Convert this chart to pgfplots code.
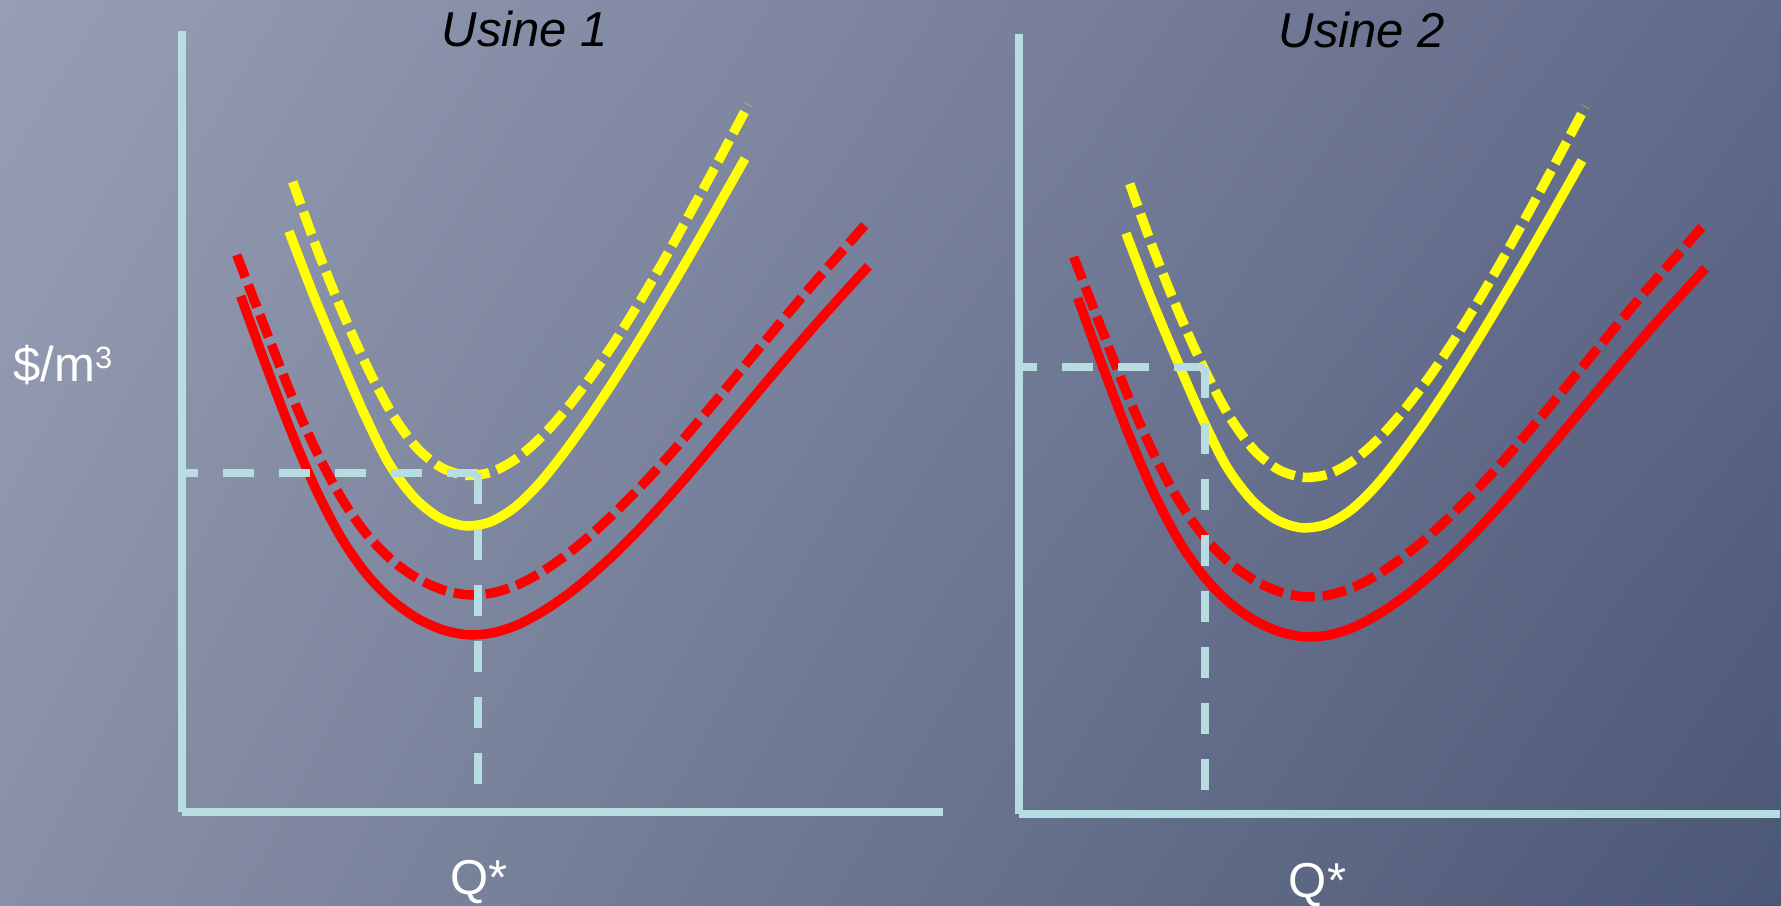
\documentclass[border=0pt]{standalone}
\usepackage{pgfplots}
\pgfplotsset{compat=1.18}
\usepackage{pgfplotstable}
\usetikzlibrary{shadings}
\usepackage{fontspec}
\setmainfont{Liberation Sans}
\definecolor{axisblue}{RGB}{183,221,224}
\definecolor{bgTL}{RGB}{151,158,180}
\definecolor{bgTR}{RGB}{98,106,138}
\definecolor{bgBL}{RGB}{136,144,167}
\definecolor{bgBR}{RGB}{74,87,117}
\definecolor{cred}{RGB}{255,0,0}
\definecolor{cyel}{RGB}{255,255,0}

% red solid curve
\pgfplotstableread{
x y
58.7 515.9
85 443.8
110 378.5
135 320.4
160 272.9
185 237.3
210 211.7
235 193.8
260 182.4
285 177.3
310 179.0
335 186.9
360 200.2
385 217.1
410 237.5
435 260.4
460 285.7
485 313.0
510 341.5
535 371.1
560 401.0
585 430.7
610 460.2
635 488.9
660 516.8
686.3 545.7
}\redsolid

% red dashed curve
\pgfplotstableread{
x y
54.7 557
85 478.8
110 415.5
135 359.4
160 312.9
185 277.3
210 251.7
235 233.8
260 222.4
285 217.3
310 219.0
335 226.9
360 240.2
385 257.6
410 278
435 301.4
460 326.7
485 354
510 383
535 412.6
560 443
585 473.2
610 503.2
635 532.4
660 560.8
683 587.1
}\reddashed

% yellow solid curve
\pgfplotstableread{
x y
107 580.7
132 515.7
157 456.1
182 398.6
207 348.4
232 314.7
257 294.5
282 286.3
307 289.6
332 304.0
357 328.2
382 359.3
407 394.0
432 431.5
457 471.3
482 512.7
507 555.2
532 598.7
563 653.4
}\yelsolid

% yellow dashed curve
\pgfplotstableread{
x y
110.7 630.2
135 563.1
160 501.0
185 445.4
210 398.3
235 364.0
260 344.1
285 336.7
310 340.1
335 353.8
360 375.7
385 403.8
410 436.7
435 473.8
460 514.2
485 557.2
510 602.4
535 648.4
566.3 707.2
}\yeldashed

\pgfplotsset{
  panel/.style={scale only axis, width=304.4pt, anchor=south west,
    xmin=0, xmax=761, ymin=0,
    axis x line=bottom, axis y line=left,
    axis line style={line width=3.2pt, draw=axisblue, -},
    xtick=\empty, ytick=\empty, clip=false},
  curve/.style={line width=3.8pt, no marks, smooth},
  dashcurve/.style={curve, dash pattern=on 9.6pt off 3.2pt},
  guide/.style={line width=3.3pt, draw=axisblue, no marks, dash pattern=on 12.4pt off 10pt},
}

\begin{document}
\begin{tikzpicture}[x=0.4pt,y=0.4pt]
\shade[upper left=bgTL, upper right=bgTR, lower left=bgBL, lower right=bgBR] (0,0) rectangle (1781,906);

\begin{axis}[panel, at={(72.8pt,37.6pt)}, ymax=781, height=312.4pt]
\addplot[curve, draw=cred] table {\redsolid};
\addplot[dashcurve, draw=cred] table {\reddashed};
\addplot[curve, draw=cyel] table {\yelsolid};
\addplot[dashcurve, draw=cyel] table {\yeldashed};
\addplot[guide] coordinates {(296.3,338.7) (0,338.7)};
\addplot[guide] coordinates {(296.3,338.7) (296.3,25)};
\end{axis}

\begin{axis}[panel, at={(407.6pt,36.8pt)}, ymax=780, height=312pt]
\addplot[curve, draw=cred] table {\redsolid};
\addplot[dashcurve, draw=cred] table {\reddashed};
\addplot[curve, draw=cyel] table {\yelsolid};
\addplot[dashcurve, draw=cyel] table {\yeldashed};
\addplot[guide] coordinates {(186,447.3) (0,447.3)};
\addplot[guide] coordinates {(186,447.3) (186,24)};
\end{axis}

\node[anchor=base, inner sep=0, font=\fontsize{19.6}{23}\selectfont\itshape] at (525,859.3) {Usine 1};
\node[anchor=base, inner sep=0, font=\fontsize{19.6}{23}\selectfont\itshape] at (1362,858) {Usine 2};
\node[anchor=base west, inner sep=0, text=white, font=\fontsize{19.6}{23}\selectfont] at (13,524.3) {\$/m\raisebox{5.2pt}{\fontsize{12.3}{14}\selectfont 3}};
\node[anchor=base, inner sep=0, text=white, font=\fontsize{19.6}{23}\selectfont] at (479,11) {Q*};
\node[anchor=base, inner sep=0, text=white, font=\fontsize{19.6}{23}\selectfont] at (1317.5,8) {Q*};

\pgfresetboundingbox
\useasboundingbox (0,0) rectangle (1781,906);
\end{tikzpicture}
\end{document}
